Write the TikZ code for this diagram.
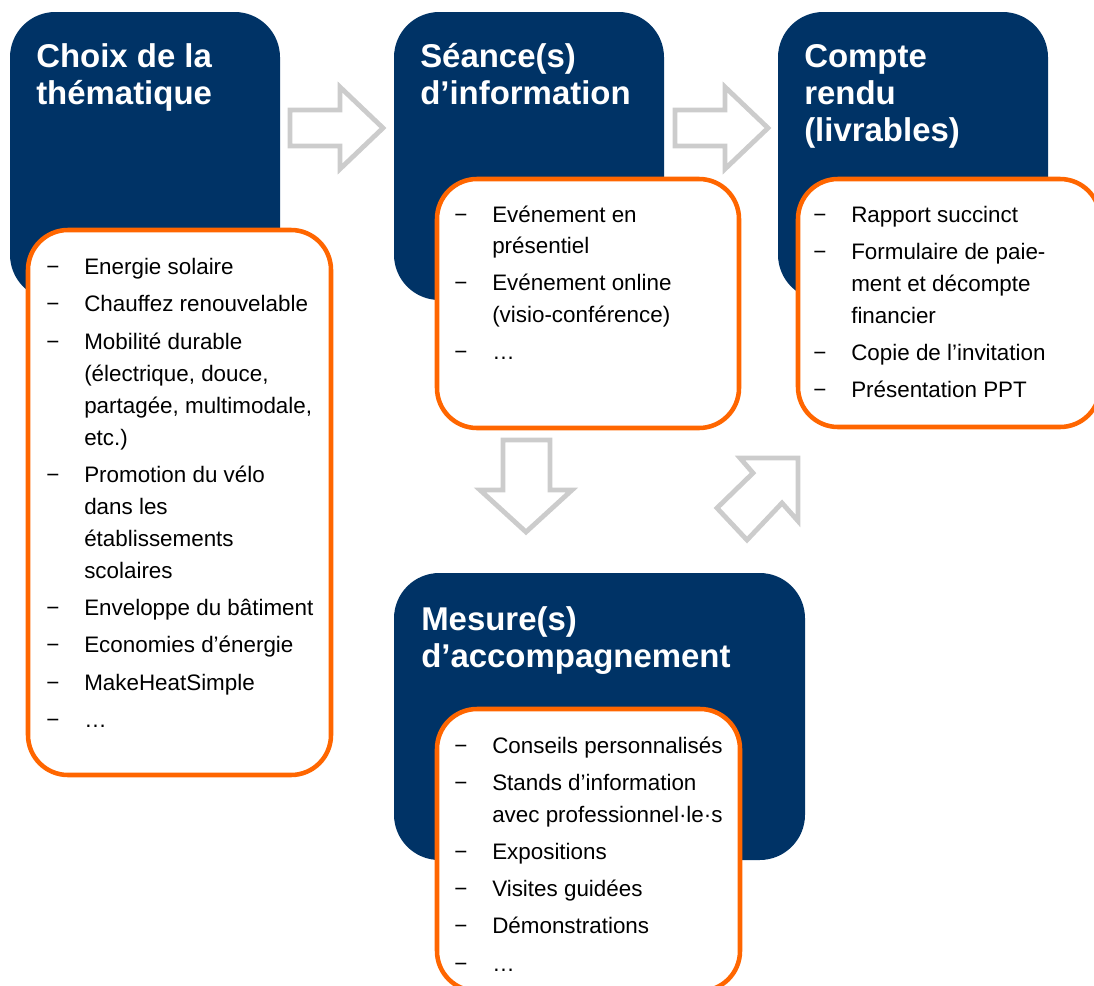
\documentclass[tikz,border=0pt]{standalone}
\usepackage{fontspec}
\setmainfont{Liberation Sans}
\definecolor{navy}{RGB}{0,51,102}
\definecolor{brorange}{RGB}{255,102,0}
\definecolor{arrgray}{RGB}{204,204,204}
\newcommand{\dsh}{\makebox[28.5pt][l]{−}}
\newcommand{\ind}{\hspace*{28.5pt}}

\begin{document}
\begin{tikzpicture}[x=0.75pt,y=-0.75pt,
	title/.style={anchor=base west,inner sep=0,text=white,font=\fontsize{24.7}{28}\selectfont\bfseries},
	item/.style={anchor=base west,inner sep=0,font=\fontsize{16.8}{20}\selectfont},
	navybox/.style={fill=navy,rounded corners=34pt},
	listbox/.style={draw=brorange,line width=3.4pt,fill=white,rounded corners=30pt},
	blockarrow/.style={draw=arrgray,line width=3.6pt,fill=white}]
	\useasboundingbox (0,0) rectangle (1094,985);
	\clip (0,0) rectangle (1094,985);

	\fill[navybox] (10,12) rectangle (280,300);
	\fill[navybox] (394,12) rectangle (664,300);
	\fill[navybox] (778,12) rectangle (1048,300);
	\fill[navybox] (394,573) rectangle (805,860);

	\foreach \x in {290,675}
		\draw[blockarrow] (\x,110) -- (\x+50,110) -- (\x+50,87) -- (\x+93,128) -- (\x+50,169) -- (\x+50,146) -- (\x,146) -- cycle;
	\draw[blockarrow] (503,440) -- (550,440) -- (550,490) -- (572,490) -- (526,532) -- (480,490) -- (503,490) -- cycle;
	\draw[blockarrow] (798,458) -- (798,521) -- (782,503) -- (747,540) -- (717,508) -- (753,473) -- (740,458) -- cycle;

	\draw[listbox] (28,230) rectangle (331,775);
	\draw[listbox] (437,179) rectangle (739,428);
	\draw[listbox] (798,179) rectangle (1100,427);
	\draw[listbox] (437,709) rectangle (740,991);

	\node[title] (choix1) at (36,67) {Choix de la};
	\node[title] (choix2) at (36,104) {thématique};
	\node[title] (seance1) at (420,67) {Séance(s)};
	\node[title] (seance2) at (420,104) {d’information};
	\node[title] (compte1) at (804,67) {Compte};
	\node[title] (compte2) at (804,104) {rendu};
	\node[title] (compte3) at (804,141) {(livrables)};
	\node[title] (mesure1) at (421,630) {Mesure(s)};
	\node[title] (mesure2) at (421,667) {d’accompagnement};

	\foreach \y/\txt [count=\i] in {274/{\dsh Energie solaire}, 311/{\dsh Chauffez renouvelable}, 349/{\dsh Mobilité durable}, 381/{\ind(électrique, douce,}, 413/{\ind partagée, multimodale,}, 445/{\ind etc.)}, 482/{\dsh Promotion du vélo}, 514/{\ind dans les}, 546/{\ind établissements}, 578/{\ind scolaires}, 615/{\dsh Enveloppe du bâtiment}, 652/{\dsh Economies d’énergie}, 690/{\dsh MakeHeatSimple}, 727/{\dsh …}}
		\node[item] (theme\i) at (46,\y) {\txt};
	\foreach \y/\txt [count=\i] in {222/{\dsh Evénement en}, 253/{\ind présentiel}, 290/{\dsh Evénement online}, 322/{\ind(visio-conférence)}, 359/{\dsh …}}
		\node[item] (info\i) at (454,\y) {\txt};
	\foreach \y/\txt [count=\i] in {222/{\dsh Rapport succinct}, 259/{\dsh Formulaire de paie-}, 291/{\ind ment et décompte}, 323/{\ind financier}, 360/{\dsh Copie de l’invitation}, 397/{\dsh Présentation PPT}}
		\node[item] (livr\i) at (813,\y) {\txt};
	\foreach \y/\txt [count=\i] in {753/{\dsh Conseils personnalisés}, 790/{\dsh Stands d’information}, 822/{\ind avec professionnel·le·s}, 859/{\dsh Expositions}, 896/{\dsh Visites guidées}, 933/{\dsh Démonstrations}, 971/{\dsh …}}
		\node[item] (accomp\i) at (454,\y) {\txt};
\end{tikzpicture}
\end{document}
